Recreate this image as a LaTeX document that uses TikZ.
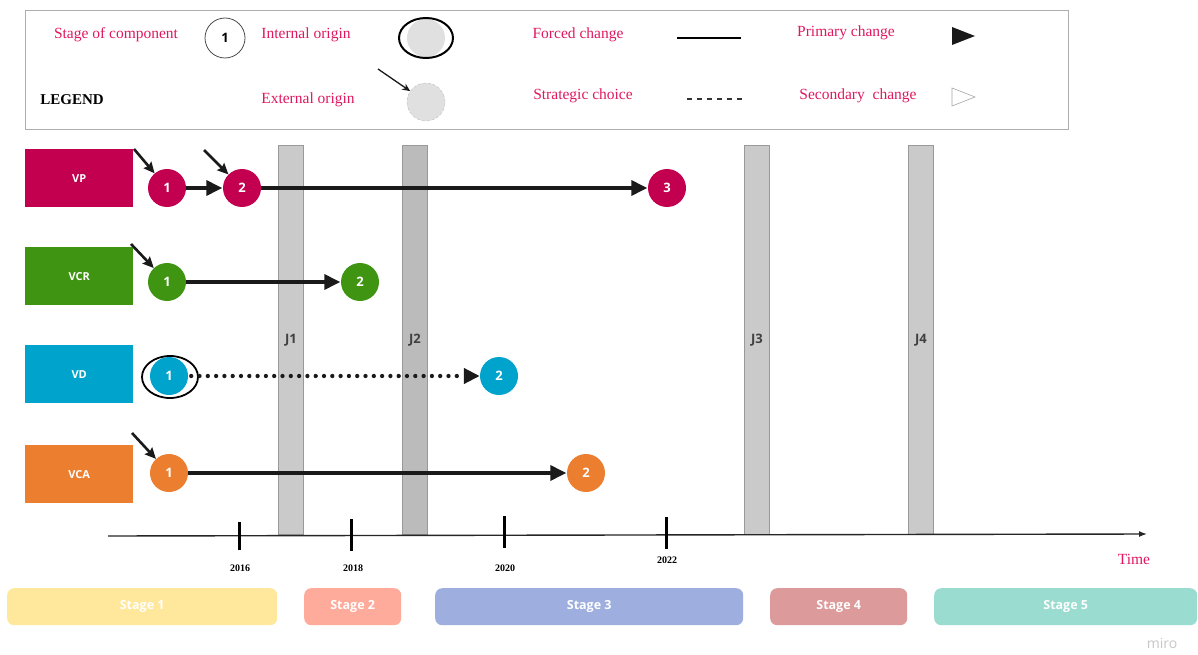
\documentclass[tikz,border=0pt]{standalone}
\usepackage{fontspec}
\setmainfont{Liberation Serif}
\setsansfont{Open Sans}
\usetikzlibrary{arrows.meta}

\definecolor{legtext}{HTML}{E0185F}
\definecolor{cvp}{HTML}{C2004F}
\definecolor{cvcr}{HTML}{3F9412}
\definecolor{cvd}{HTML}{00A3CC}
\definecolor{cvca}{HTML}{EC7E30}
\definecolor{barA}{HTML}{CACACA}
\definecolor{barB}{HTML}{BBBBBB}
\definecolor{barline}{HTML}{999999}
\definecolor{ink}{HTML}{1A1A1A}
\definecolor{sone}{HTML}{FFE89B}
\definecolor{stwo}{HTML}{FFAB9B}
\definecolor{sthree}{HTML}{9DAEDF}
\definecolor{sfour}{HTML}{DC9A9A}
\definecolor{sfive}{HTML}{9ADCD0}

\tikzset{
  legtxt/.style={font=\fontsize{15.5}{18}\selectfont, text=legtext, inner sep=0pt},
  rowbox/.style={draw=none, minimum width=108, minimum height=58, inner sep=0pt,
    text=white, font=\sffamily\bfseries\fontsize{11}{13}\selectfont},
  stagecirc/.style={circle, minimum size=38, inner sep=0pt, draw=none,
    text=white, font=\sffamily\bfseries\fontsize{13}{15}\selectfont},
  jbar/.style={draw=barline, line width=1pt, minimum width=25, minimum height=389,
    inner sep=0pt, text=black!75, font=\sffamily\bfseries\fontsize{13}{15}\selectfont},
  mainarrow/.style={draw=ink, line width=3.5pt,
    -{Triangle[length=16pt, width=15pt]}, shorten >=0.5pt},
  dotarrow/.style={draw=ink, line width=4.3pt, line cap=round,
    dash pattern=on 0pt off 8.3pt,
    -{Triangle[length=16pt, width=15pt, line cap=butt]}},
  extarrow/.style={draw=ink, line width=2.6pt,
    -{Stealth[length=11pt, width=10pt, inset=1.5pt]}},
  tick/.style={draw=black, line width=3pt},
  yearlbl/.style={font=\bfseries\fontsize{10}{12}\selectfont, inner sep=0pt},
  stagebox/.style={rounded corners=7pt, draw=none, minimum height=37, inner sep=0pt,
    text=white, font=\sffamily\bfseries\fontsize{12.5}{15}\selectfont}
}

\begin{document}
\begin{tikzpicture}[x=1pt, y=-1pt]
  \useasboundingbox[fill=white] (0,0) rectangle (1198,655);

  % ---------- legend ----------
  \node[draw=barline!80, line width=1.2pt, minimum width=1043, minimum height=119,
        inner sep=0pt, anchor=north west] (legend) at (25,10) {};

  \node[legtxt] (lgStageTxt) at (116,35) {Stage of component};
  \node[circle, draw=black!70, line width=0.8pt, minimum size=40, inner sep=0pt,
        font=\sffamily\bfseries\fontsize{13}{15}\selectfont] (lgStage) at (225,38) {1};

  \node[legtxt] (lgIntTxt) at (306,35) {Internal origin};
  \node[circle, fill=black!12, draw=none, minimum size=38] (lgInt) at (426,38) {};
  \draw[black, line width=2pt] (lgInt.center) ellipse [x radius=27, y radius=20];

  \node[font=\bfseries\fontsize{15}{18}\selectfont, inner sep=0pt] (lgTitle) at (72,100) {LEGEND};

  \node[legtxt] (lgExtTxt) at (308,100) {External origin};
  \node[circle, fill=black!12, draw=black!25, densely dashed, line width=0.4pt,
        minimum size=38] (lgExt) at (426,102) {};
  \coordinate (lgExtFrom) at (378,69);
  \draw[draw=ink, line width=1.3pt, -{Stealth[length=8pt, width=7pt]}] (lgExtFrom) -- (lgExt);

  \node[legtxt] (lgForcedTxt) at (578,35) {Forced change};
  \coordinate (lgForcedA) at (677,38);
  \coordinate (lgForcedB) at (741,38);
  \draw[black, line width=1.2pt] (lgForcedA) -- (lgForcedB);

  \node[legtxt] (lgStratTxt) at (583,96) {Strategic choice};
  \coordinate (lgStratA) at (687,99);
  \coordinate (lgStratB) at (746,99);
  \draw[black!80, line width=1.3pt, dash pattern=on 5pt off 5pt] (lgStratA) -- (lgStratB);

  \node[legtxt] (lgPrimTxt) at (846,33) {Primary change};
  \fill[ink] (952,27) -- (975,36) -- (952,45) -- cycle;

  \node[legtxt] (lgSecTxt) at (858,96) {Secondary\ \ change};
  \draw[black!35, line width=0.6pt, fill=white] (952,88) -- (975,97) -- (952,106) -- cycle;

  % ---------- junction bars ----------
  \node[jbar, fill=barA, anchor=north west] (J1) at (278,145) {J1};
  \node[jbar, fill=barB, anchor=north west] (J2) at (402,145) {J2};
  \node[jbar, fill=barA, anchor=north west] (J3) at (744,145) {J3};
  \node[jbar, fill=barA, anchor=north west] (J4) at (908,145) {J4};

  % ---------- component rows ----------
  \node[rowbox, fill=cvp,  anchor=north west] (VP)  at (25,149) {VP};
  \node[rowbox, fill=cvcr, anchor=north west] (VCR) at (25,247) {VCR};
  \node[rowbox, fill=cvd,  anchor=north west] (VD)  at (25,345) {VD};
  \node[rowbox, fill=cvca, anchor=north west] (VCA) at (25,445) {VCA};

  % VP
  \node[stagecirc, fill=cvp] (vp1) at (167,188) {1};
  \node[stagecirc, fill=cvp] (vp2) at (242,188) {2};
  \node[stagecirc, fill=cvp] (vp3) at (667,188) {3};
  \draw[mainarrow] (vp1) -- (vp2);
  \draw[mainarrow] (vp2) -- (vp3);
  \coordinate (vpExtA) at (134,149);
  \coordinate (vpExtB) at (204,150);
  \draw[extarrow] (vpExtA) -- (vp1);
  \draw[extarrow] (vpExtB) -- (vp2);

  % VCR
  \node[stagecirc, fill=cvcr] (vcr1) at (167,282) {1};
  \node[stagecirc, fill=cvcr] (vcr2) at (360,282) {2};
  \draw[mainarrow] (vcr1) -- (vcr2);
  \coordinate (vcrExt) at (131,244);
  \draw[extarrow] (vcrExt) -- (vcr1);

  % VD
  \node[stagecirc, fill=cvd] (vd1) at (169,376) {1};
  \node[stagecirc, fill=cvd] (vd2) at (499,376) {2};
  \draw[black, line width=1.8pt] (170,377) ellipse [x radius=28, y radius=21];
  \draw[dotarrow] ([xshift=3pt]vd1.east) -- (vd2);

  % VCA
  \node[stagecirc, fill=cvca] (vca1) at (169,473) {1};
  \node[stagecirc, fill=cvca] (vca2) at (586,473) {2};
  \draw[mainarrow] (vca1) -- (vca2);
  \coordinate (vcaExt) at (132,433);
  \draw[extarrow] (vcaExt) -- (vca1);

  % ---------- time axis ----------
  \coordinate (axL) at (108,536);
  \coordinate (axR) at (1147,534);
  \draw[black!85, line width=1.4pt, -{Latex[length=8pt, width=6pt]}] (axL) -- (axR);
  \node[legtxt] (timeLbl) at (1134,559) {Time};

  \coordinate (t16a) at (239,522); \coordinate (t16b) at (239,550);
  \coordinate (t18a) at (351,519); \coordinate (t18b) at (351,551);
  \coordinate (t20a) at (504,516); \coordinate (t20b) at (504,548);
  \coordinate (t22a) at (666,517); \coordinate (t22b) at (666,549);
  \draw[tick] (t16a) -- (t16b);
  \draw[tick] (t18a) -- (t18b);
  \draw[tick] (t20a) -- (t20b);
  \draw[tick] (t22a) -- (t22b);
  \node[yearlbl] (y16) at (240,568) {2016};
  \node[yearlbl] (y18) at (353,568) {2018};
  \node[yearlbl] (y20) at (505,568) {2020};
  \node[yearlbl] (y22) at (667,560) {2022};

  % ---------- stages ----------
  \node[stagebox, fill=sone,   minimum width=270, anchor=north west] (st1) at (7,588)   {Stage 1};
  \node[stagebox, fill=stwo,   minimum width=97,  anchor=north west] (st2) at (304,588) {Stage 2};
  \node[stagebox, fill=sthree, minimum width=308, anchor=north west] (st3) at (435,588) {Stage 3};
  \node[stagebox, fill=sfour,  minimum width=137, anchor=north west] (st4) at (770,588) {Stage 4};
  \node[stagebox, fill=sfive,  minimum width=263, anchor=north west] (st5) at (934,588) {Stage 5};

  \node[text=black!22, font=\sffamily\fontsize{14}{16}\selectfont, inner sep=0pt] (miro) at (1162,643) {miro};
\end{tikzpicture}
\end{document}
